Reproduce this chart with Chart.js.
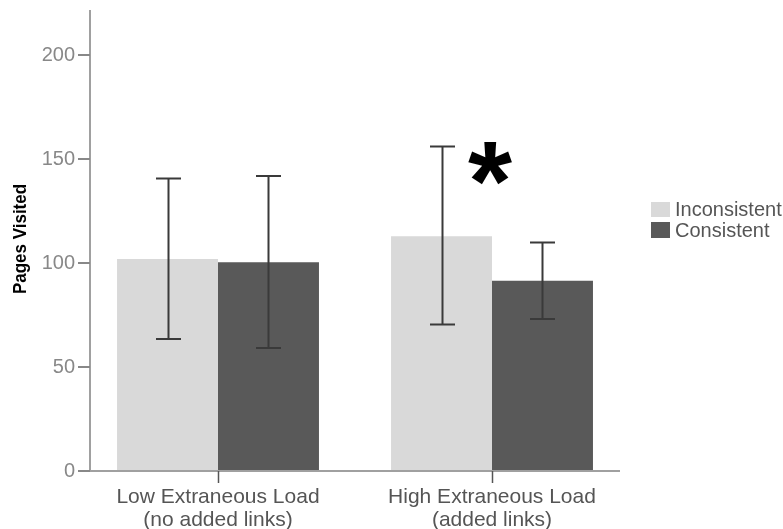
<!DOCTYPE html>
<html><head><meta charset="utf-8">
<script src="https://cdn.jsdelivr.net/npm/chart.js@4/dist/chart.umd.min.js"></script>
<style>html,body{margin:0;padding:0;background:#fff}#wrap{width:783px;height:529px;position:relative}</style>
</head><body><div id="wrap"><canvas id="c" width="783" height="529"></canvas></div>
<script>
const categories = [['Low Extraneous Load','(no added links)'], ['High Extraneous Load','(added links)']];
const seriesNames = ['Inconsistent', 'Consistent'];
const inconsistent = [102, 113];
const consistent = [100.5, 91.5];
const inconsistentLow = [63.5, 70.5];
const inconsistentHigh = [140.8, 156.2];
const consistentLow = [59.2, 73.2];
const consistentHigh = [142, 110];
const yTicks = [0, 50, 100, 150, 200];
const colors = ['#d9d9d9', '#595959'];

const AX = {left: 90, right: 620, top: 10};
const FAM = '"Liberation Sans", Arial, sans-serif';

const deco = {
  id: 'deco',
  afterDatasetsDraw(chart) {
    const ctx = chart.ctx, y = chart.scales.y, x = chart.scales.x;
    const errs = [[inconsistentLow, inconsistentHigh], [consistentLow, consistentHigh]];
    ctx.save();
    // error bars
    ctx.strokeStyle = '#3a3a3a'; ctx.lineWidth = 2;
    errs.forEach((e, di) => {
      const meta = chart.getDatasetMeta(di);
      meta.data.forEach((bar, i) => {
        const cx = Math.round(bar.x) + 0.5;
        const yl = y.getPixelForValue(e[0][i]), yh = y.getPixelForValue(e[1][i]);
        ctx.beginPath();
        ctx.moveTo(cx, yl); ctx.lineTo(cx, yh);
        ctx.moveTo(cx - 12.5, yh); ctx.lineTo(cx + 12.5, yh);
        ctx.moveTo(cx - 12.5, yl); ctx.lineTo(cx + 12.5, yl);
        ctx.stroke();
      });
    });
    // axes
    const y0 = y.getPixelForValue(0);
    ctx.strokeStyle = '#a0a0a0'; ctx.lineWidth = 2;
    ctx.beginPath();
    ctx.moveTo(AX.left, AX.top); ctx.lineTo(AX.left, y0);
    ctx.moveTo(AX.left - 1, y0); ctx.lineTo(AX.right, y0);
    ctx.stroke();
    ctx.strokeStyle = '#888'; ctx.lineWidth = 2;
    yTicks.forEach(v => {
      const py = Math.round(y.getPixelForValue(v));
      ctx.beginPath(); ctx.moveTo(78, py); ctx.lineTo(AX.left, py); ctx.stroke();
    });
    ctx.strokeStyle = '#555'; ctx.lineWidth = 1.5;
    categories.forEach((c, i) => {
      const px = Math.round(x.getPixelForValue(i)) + 0.5;
      ctx.beginPath(); ctx.moveTo(px, y0); ctx.lineTo(px, y0 + 12); ctx.stroke();
    });
    // significance asterisk
    const ax = x.getPixelForValue(1) - 2;
    ctx.font = 'bold 100px ' + FAM;
    let m = ctx.measureText('*');
    let h = m.actualBoundingBoxAscent + m.actualBoundingBoxDescent;
    const fs = 100 * 43 / h;
    ctx.font = 'bold ' + fs + 'px ' + FAM;
    m = ctx.measureText('*');
    ctx.fillStyle = '#000'; ctx.textAlign = 'center'; ctx.textBaseline = 'alphabetic';
    ctx.fillText('*', ax, 142 + m.actualBoundingBoxAscent);
    // legend
    ctx.font = '20px ' + FAM;
    ctx.textAlign = 'left'; ctx.textBaseline = 'middle';
    const rows = [[202, 217], [222, 238]];
    seriesNames.forEach((n, i) => {
      ctx.fillStyle = colors[i];
      ctx.fillRect(651, rows[i][0], 19, rows[i][1] - rows[i][0]);
      ctx.fillStyle = '#555';
      ctx.fillText(n, 675, (rows[i][0] + rows[i][1]) / 2 + 1);
    });
    // y title
    ctx.translate(21, 239); ctx.rotate(-Math.PI / 2); ctx.scale(1, 1.12);
    ctx.font = 'bold 17px ' + FAM;
    ctx.fillStyle = '#000'; ctx.textAlign = 'center'; ctx.textBaseline = 'middle';
    ctx.fillText('Pages Visited', 0, 0);
    ctx.restore();
  }
};

new Chart(document.getElementById('c'), {
  type: 'bar',
  data: {
    labels: categories,
    datasets: [
      {label: seriesNames[0], data: inconsistent, backgroundColor: colors[0], borderWidth: 0},
      {label: seriesNames[1], data: consistent, backgroundColor: colors[1], borderWidth: 0}
    ]
  },
  options: {
    responsive: false, animation: false,
    layout: {padding: {top: 5, right: 154, left: 0, bottom: 0}},
    plugins: {legend: {display: false}, tooltip: {enabled: false}},
    datasets: {bar: {barPercentage: 1, categoryPercentage: 0.737}},
    scales: {
      x: {
        grid: {display: false, drawTicks: false}, border: {display: false},
        ticks: {color: '#555', font: {size: 21, family: FAM, lineHeight: 1.1}, padding: 15, maxRotation: 0},
        afterFit(s) { s.height = 58; }
      },
      y: {
        min: 0, max: 218,
        grid: {display: false, drawTicks: false}, border: {display: false},
        afterBuildTicks(s) { s.ticks = yTicks.map(v => ({value: v})); },
        ticks: {color: '#888', font: {size: 20, family: FAM}, padding: 6},
        afterFit(s) { s.width = 81; }
      }
    }
  },
  plugins: [deco]
});
</script></body></html>
